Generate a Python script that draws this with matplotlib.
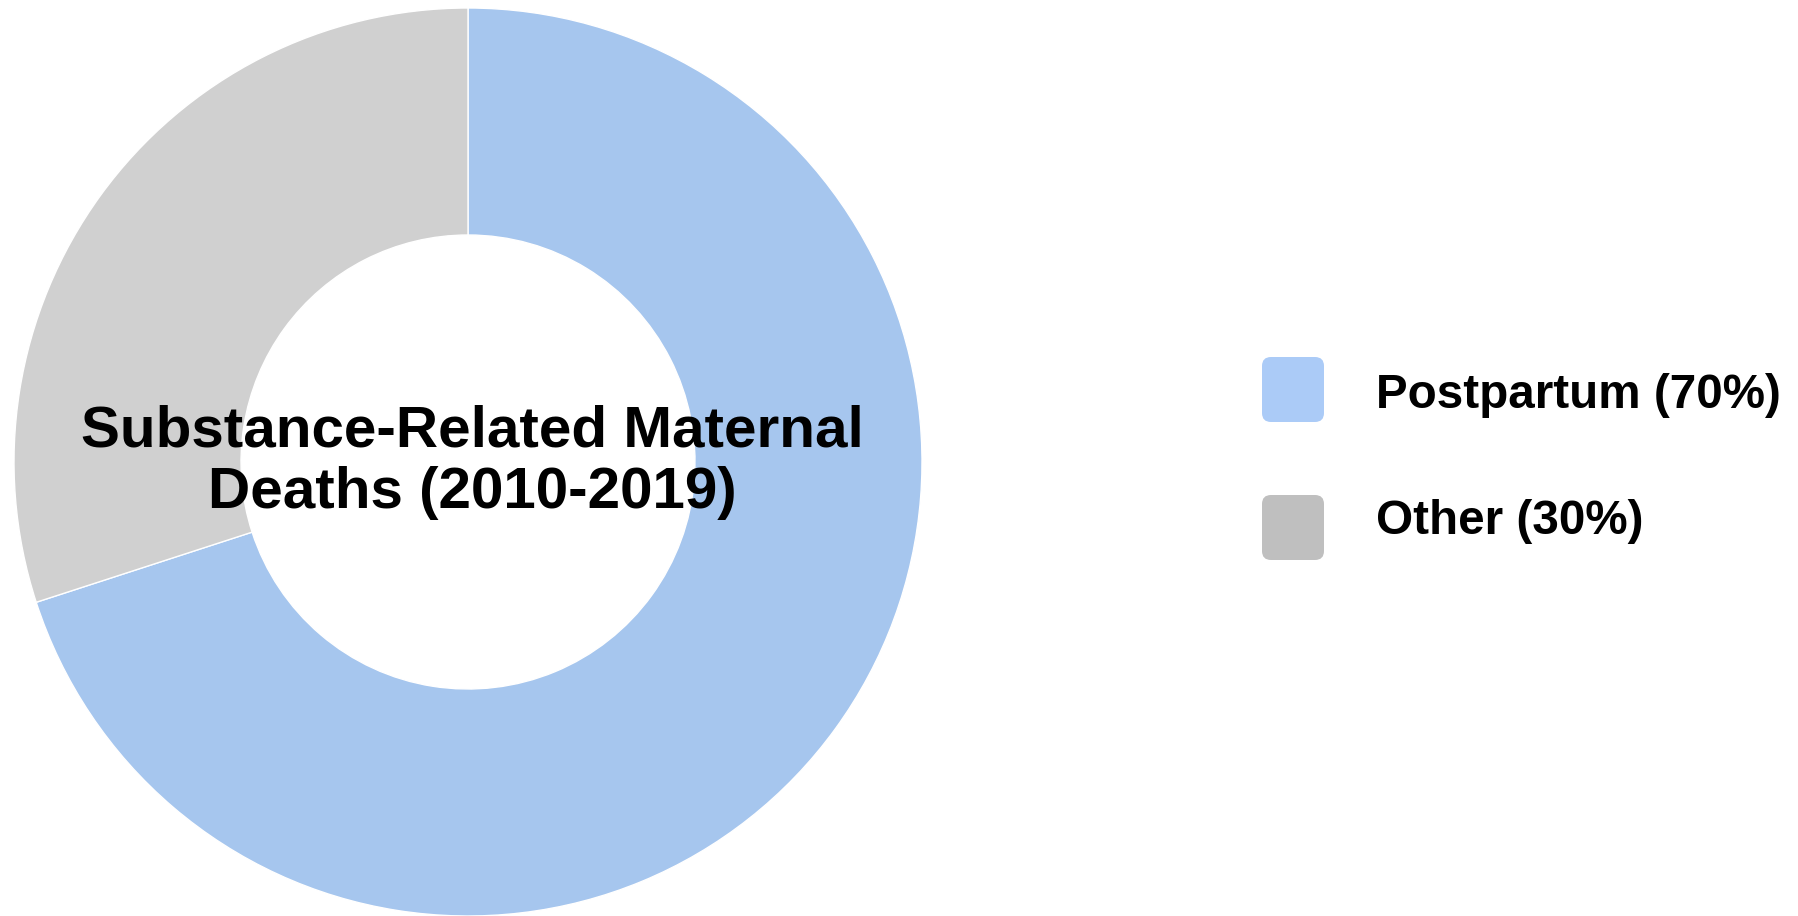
import matplotlib
matplotlib.use("Agg")
import matplotlib.pyplot as plt
from matplotlib.patches import FancyBboxPatch

plt.rcParams['font.family'] = ['Liberation Sans', 'DejaVu Sans']

categories = ["Postpartum", "Other"]
values = [70, 30]
legend_labels = ["Postpartum (70%)", "Other (30%)"]
title_text = "Substance-Related Maternal\nDeaths (2010-2019)"

wedge_colors = ["#A6C6EE", "#D0D0D0"]
legend_colors = ["#ABCBF7", "#BFBFBF"]

W, H = 1798, 916
fig = plt.figure(figsize=(W / 100, H / 100), dpi=100)

# donut axes
cx, cy, r = 468, 462, 454
ax = fig.add_axes([(cx - r) / W, (H - cy - r) / H, 2 * r / W, 2 * r / H])
ax.pie(values, colors=wedge_colors, startangle=90, counterclock=False,
       radius=1, wedgeprops=dict(width=0.5, edgecolor="white", linewidth=1.0))
ax.set_xlim(-1, 1)
ax.set_ylim(-1, 1)
ax.set_aspect("equal")
ax.axis("off")
ax.text(0.01, 0.0, title_text, ha="center", va="center", fontsize=42,
        fontweight="bold", linespacing=1.17, color="black")

# legend overlay in pixel coordinates
lax = fig.add_axes([0, 0, 1, 1])
lax.set_xlim(0, W)
lax.set_ylim(H, 0)
lax.axis("off")
sq_x = 1262
sq_w, sq_h = 62, 65
sq_ys = [357, 495]
text_cy = [396, 522]
for i, lab in enumerate(legend_labels):
    p = FancyBboxPatch((sq_x, sq_ys[i]), sq_w, sq_h,
                       boxstyle="round,pad=0,rounding_size=9",
                       facecolor=legend_colors[i], edgecolor="none")
    lax.add_patch(p)
    lax.text(1376, text_cy[i], lab, ha="left", va="center", fontsize=34.3,
             fontweight="bold", color="black")

fig.savefig("out.png", dpi=100, facecolor="white")
